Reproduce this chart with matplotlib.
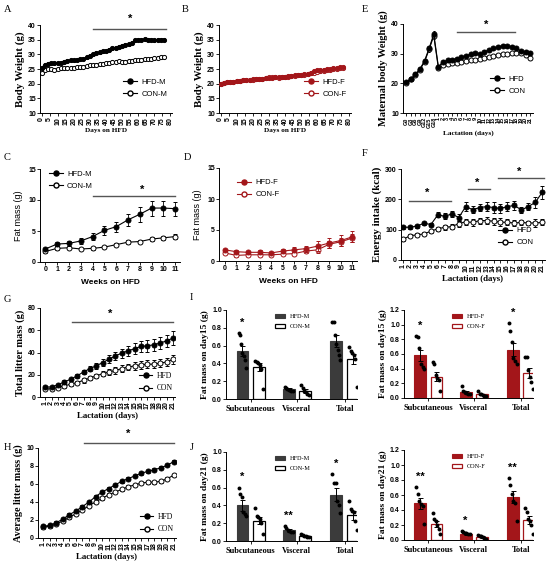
"""Multi-panel figure: body weight, fat mass and litter growth on HFD."""

import matplotlib
matplotlib.use("Agg")
import matplotlib.pyplot as plt
from matplotlib.patches import Patch
from matplotlib.lines import Line2D
import numpy as np

plt.rcParams["font.family"] = "Liberation Sans"
plt.rcParams["font.serif"] = ["Liberation Serif"]

W, H = 546, 565
RED = "#a3161a"
GRAY = "#3b3b3b"
STAR_LINE = "#555555"

# ----------------------------------------------------------------------
# Data
# ----------------------------------------------------------------------
days_hfd = list(range(0, 77, 2))
a_hfd = [25.5, 26.5, 26.8, 27.0, 27.0, 27.0, 27.2, 27.5, 27.8, 28.0, 28.0, 28.2, 28.3,
         28.5, 29.0, 29.5, 30.0, 30.5, 30.7, 31.0, 31.2, 31.5, 32.0, 32.3, 32.6, 33.0,
         33.2, 33.5, 34.0, 34.8, 35.0, 35.0, 35.2, 35.0, 35.0, 34.8, 35.0, 35.0, 35.0]
a_con = [23.5, 24.8, 25.0, 25.0, 24.8, 25.0, 25.2, 25.2, 25.4, 25.5, 25.5, 25.6, 25.6,
         25.8, 26.0, 26.2, 26.3, 26.5, 26.6, 26.8, 27.0, 27.2, 27.4, 27.5, 27.6, 27.5,
         27.4, 27.6, 27.8, 28.0, 28.0, 28.2, 28.3, 28.4, 28.5, 28.6, 28.8, 29.0, 29.0]
a_sem = 0.5
b_hfd = [20.0, 20.3, 20.5, 20.6, 20.7, 20.8, 21.0, 21.2, 21.4, 21.4, 21.5, 21.5, 21.6,
         21.7, 21.8, 22.0, 22.1, 22.2, 22.2, 22.3, 22.4, 22.5, 22.6, 22.8, 22.9, 23.0,
         23.2, 23.4, 23.7, 24.3, 24.5, 24.6, 24.8, 25.0, 25.0, 25.2, 25.4, 25.6, 25.7]
b_con = [20.0, 20.2, 20.4, 20.5, 20.6, 20.8, 21.0, 21.1, 21.3, 21.3, 21.4, 21.5, 21.6,
         21.7, 21.9, 22.3, 22.2, 22.2, 22.1, 22.2, 22.3, 22.4, 22.6, 22.7, 22.8, 22.9,
         23.0, 23.2, 23.5, 23.8, 24.0, 24.2, 24.4, 24.6, 24.8, 25.0, 25.1, 25.3, 25.4]
b_sem = 0.4

e_labels = ["G0", "G3", "G6", "G9", "G12", "G15", "G18"] + [str(d) for d in range(1, 22)]
e_hfd = [20.4, 21.5, 23.0, 24.9, 27.6, 31.9, 36.6,
         25.6, 27.3, 27.7, 28.0, 28.3, 28.8, 29.2, 29.8, 30.1, 29.8, 30.6, 31.2, 31.8,
         32.3, 32.6, 32.5, 32.3, 31.8, 30.8, 30.5, 30.2]
e_con = [20.2, 21.3, 22.8, 24.6, 27.3, 31.5, 36.0,
         25.2, 26.2, 26.6, 26.9, 27.0, 27.2, 27.5, 27.8, 28.0, 28.3, 28.7, 29.0, 29.3,
         29.6, 29.8, 29.9, 30.1, 30.3, 30.1, 29.6, 28.6]
e_sem = [0.4, 0.5, 0.5, 0.6, 0.7, 0.8, 1.0,
         0.5, 0.5, 0.5, 0.5, 0.5, 0.5, 0.5, 0.5, 0.5, 0.5, 0.5, 0.5, 0.5,
         0.5, 0.5, 0.5, 0.5, 0.5, 0.6, 0.6, 0.6]

weeks = list(range(12))
c_hfd = [2.1, 2.9, 3.0, 3.4, 4.1, 5.1, 5.7, 6.8, 7.7, 8.7, 8.7, 8.6]
c_hfd_sem = [0.2, 0.3, 0.4, 0.5, 0.6, 0.7, 0.8, 1.0, 1.2, 1.2, 1.2, 1.1]
c_con = [1.7, 2.2, 2.3, 2.1, 2.2, 2.4, 2.8, 3.2, 3.3, 3.7, 3.9, 4.1]
c_con_sem = [0.2, 0.2, 0.2, 0.2, 0.2, 0.2, 0.2, 0.3, 0.3, 0.3, 0.3, 0.4]

d_hfd = [1.8, 1.5, 1.4, 1.4, 1.3, 1.6, 1.8, 2.0, 2.4, 2.9, 3.3, 3.9]
d_hfd_sem = [0.2, 0.2, 0.2, 0.3, 0.2, 0.3, 0.4, 0.5, 0.8, 0.8, 0.9, 0.9]
d_con = [1.3, 0.9, 1.0, 1.0, 1.0, 1.1, 1.2, 1.6, 1.8, 2.7, 3.1, 3.7]
d_con_sem = [0.2, 0.2, 0.2, 0.2, 0.2, 0.2, 0.2, 0.3, 0.5, 0.6, 0.6, 0.7]

lact_days = list(range(1, 22))
f_hfd = [108, 108, 112, 121, 117, 149, 144, 152, 140, 176, 166, 173, 176, 173, 170,
         176, 180, 165, 176, 190, 223]
f_hfd_sem = [5, 5, 5, 5, 6, 8, 10, 10, 12, 14, 12, 12, 16, 18, 15, 14, 14, 10, 12, 18, 22]
f_con = [68, 80, 83, 86, 95, 103, 108, 110, 120, 126, 124, 130, 130, 128, 125, 124,
         122, 124, 122, 122, 124]
f_con_sem = [5, 5, 5, 5, 5, 6, 8, 8, 10, 10, 12, 10, 12, 12, 12, 10, 10, 8, 8, 12, 10]

g_hfd = [9, 9, 11, 13.5, 16, 19, 22.5, 25.5, 28, 31, 34, 37, 39.5, 41.5, 43.5, 45.5,
         46, 47, 48.5, 50.5, 53]
g_hfd_sem = [1, 1, 1, 1.5, 1.5, 2, 2, 2, 2.5, 3, 3.5, 3.5, 4, 4.5, 5, 5, 5.5, 5.5,
             5.5, 5.5, 6]
g_con = [7, 7.5, 8.5, 10, 11.5, 13, 15, 17, 19, 21, 22.5, 24, 25.5, 27, 28, 29, 29.5,
         29.5, 30.5, 31.5, 34]
g_con_sem = [1, 1, 1, 1.5, 1.5, 1.5, 2, 2, 2, 2.5, 2.5, 3, 3, 3, 3.5, 3.5, 3.5, 3.5,
             3.5, 3.5, 4]

h_hfd = [1.3, 1.4, 1.7, 2.1, 2.6, 3.0, 3.5, 4.0, 4.6, 5.1, 5.5, 5.9, 6.3, 6.6, 6.9,
         7.2, 7.4, 7.6, 7.8, 8.1, 8.5]
h_con = [1.2, 1.3, 1.55, 1.9, 2.3, 2.7, 3.1, 3.6, 4.0, 4.4, 4.8, 5.1, 5.4, 5.7, 5.9,
         6.1, 6.2, 6.2, 6.3, 6.6, 7.0]
h_sem = 0.15

depots = ["Subcutaneous", "Visceral", "Total"]

i_m_hfd = [0.54, 0.11, 0.65]
i_m_hfd_sem = [0.06, 0.01, 0.07]
i_m_con = [0.36, 0.09, 0.45]
i_m_con_sem = [0.04, 0.02, 0.06]
i_m_hfd_pts = [[0.74, 0.72, 0.62, 0.52, 0.48, 0.44, 0.35],
               [0.14, 0.12, 0.11, 0.10, 0.10, 0.09, 0.09],
               [0.87, 0.86, 0.72, 0.62, 0.55, 0.50, 0.44]]
i_m_con_pts = [[0.43, 0.42, 0.41, 0.38, 0.34, 0.11],
               [0.16, 0.12, 0.09, 0.08, 0.06, 0.05],
               [0.58, 0.54, 0.52, 0.50, 0.45, 0.13]]
i_m_stars = ["*", "", ""]

i_f_hfd = [0.58, 0.08, 0.66]
i_f_hfd_sem = [0.07, 0.02, 0.09]
i_f_con = [0.29, 0.05, 0.34]
i_f_con_sem = [0.06, 0.01, 0.07]
i_f_hfd_pts = [[0.85, 0.83, 0.68, 0.47, 0.42, 0.40],
               [0.17, 0.10, 0.08, 0.07, 0.06, 0.06],
               [1.02, 0.92, 0.76, 0.55, 0.50, 0.46]]
i_f_con_pts = [[0.49, 0.46, 0.31, 0.27, 0.25, 0.10],
               [0.09, 0.06, 0.05, 0.04, 0.03, 0.03],
               [0.56, 0.56, 0.38, 0.28, 0.22, 0.12]]
i_f_stars = ["*", "", "*"]

j_m_hfd = [0.40, 0.12, 0.52]
j_m_hfd_sem = [0.06, 0.015, 0.07]
j_m_con = [0.23, 0.06, 0.29]
j_m_con_sem = [0.04, 0.01, 0.05]
j_m_hfd_pts = [[0.60, 0.53, 0.50, 0.33, 0.30, 0.28],
               [0.17, 0.15, 0.12, 0.11, 0.10, 0.10],
               [0.75, 0.65, 0.65, 0.45, 0.40, 0.32]]
j_m_con_pts = [[0.37, 0.28, 0.27, 0.25, 0.20, 0.08],
               [0.08, 0.07, 0.06, 0.06, 0.05, 0.04],
               [0.45, 0.36, 0.34, 0.33, 0.22, 0.12]]
j_m_stars = ["*", "**", "*"]

j_f_hfd = [0.49, 0.08, 0.57]
j_f_hfd_sem = [0.07, 0.01, 0.08]
j_f_con = [0.22, 0.04, 0.27]
j_f_con_sem = [0.04, 0.01, 0.05]
j_f_hfd_pts = [[0.71, 0.62, 0.52, 0.48, 0.46, 0.22],
               [0.12, 0.11, 0.10, 0.09, 0.08, 0.08],
               [0.83, 0.73, 0.62, 0.52, 0.50, 0.26]]
j_f_con_pts = [[0.36, 0.28, 0.25, 0.20, 0.15, 0.08],
               [0.07, 0.06, 0.05, 0.04, 0.03, 0.02],
               [0.43, 0.37, 0.28, 0.25, 0.20, 0.08]]
j_f_stars = ["**", "*", "**"]


# ----------------------------------------------------------------------
# Helpers
# ----------------------------------------------------------------------
def px_axes(fig, left, top, right, bottom):
    return fig.add_axes([left / W, 1 - bottom / H, (right - left) / W, (bottom - top) / H])


def style(ax):
    for s in ("top", "right"):
        ax.spines[s].set_visible(False)
    for s in ("left", "bottom"):
        ax.spines[s].set_linewidth(0.7)
    ax.tick_params(length=2, width=0.6, labelsize=5, pad=1)
    for lab in ax.get_xticklabels() + ax.get_yticklabels():
        lab.set_fontweight("bold")


def serif_label(ax, xlabel=None, ylabel=None, xsize=6, ysize=7.5):
    font = dict(family="Liberation Serif", fontweight="bold")
    if xlabel:
        ax.set_xlabel(xlabel, labelpad=2, fontsize=xsize, **font)
    if ylabel:
        ax.set_ylabel(ylabel, labelpad=2, fontsize=ysize, **font)


def plot_pair(ax, x, hfd, hfd_err, con, con_err, color="black", ms=3.6, cap=1.2):
    ax.errorbar(x, con, yerr=con_err, color=color, lw=0.8, elinewidth=0.6,
                capsize=cap, capthick=0.6, marker="o", ms=ms, mfc="white",
                mec=color, mew=0.7, zorder=2)
    ax.errorbar(x, hfd, yerr=hfd_err, color=color, lw=0.8, elinewidth=0.6,
                capsize=cap, capthick=0.6, marker="o", ms=ms, mfc=color,
                mec=color, mew=0.7, zorder=3)


def pair_legend(ax, labels, color="black", serif=False, **kw):
    handles = [
        Line2D([], [], color=color, lw=0.8, marker="o", ms=3.6, mfc=color, mec=color),
        Line2D([], [], color=color, lw=0.8, marker="o", ms=3.6, mfc="white", mec=color),
    ]
    prop = {"family": "Liberation Serif" if serif else "Liberation Sans", "size": 5.5}
    ax.legend(handles, labels, frameon=False, prop=prop, handlelength=1.8,
              handletextpad=0.6, labelspacing=0.6, borderaxespad=0.2, **kw)


def star_line(ax, x0, x1, y, xs, ys, text="*"):
    ax.plot([x0, x1], [y, y], color=STAR_LINE, lw=1.0, clip_on=False)
    ax.text(xs, ys, text, ha="center", va="center", fontsize=8, fontweight="bold",
            clip_on=False)


def bar_panel(ax, hfd, hfd_sem, con, con_sem, hfd_pts, con_pts, stars, dark,
              edge, ymax, ylabel, labels):
    centers = np.array([0.5, 3.3, 6.2])
    width = 0.72
    xh, xc = centers - 0.5, centers + 0.5
    ax.bar(xh, hfd, width, color=dark, edgecolor=dark, lw=0.8, zorder=1)
    ax.bar(xc, con, width, color="white", edgecolor=edge, lw=0.9, zorder=1)
    ax.errorbar(xh, hfd, yerr=hfd_sem, fmt="none", ecolor="black", elinewidth=0.7,
                capsize=1.8, capthick=0.7, zorder=2)
    ax.errorbar(xc, con, yerr=con_sem, fmt="none", ecolor="black", elinewidth=0.7,
                capsize=1.8, capthick=0.7, zorder=2)
    for k in range(3):
        for pts, x in ((hfd_pts[k], xh[k]), (con_pts[k], xc[k])):
            n = len(pts)
            offs = np.linspace(-0.24, 0.24, n)
            ax.scatter(x + offs, pts, s=8, color="black", zorder=3, lw=0)
        if stars[k]:
            top = max(hfd_pts[k])
            ax.text(xh[k], top + 0.06 * ymax, stars[k], ha="center", va="bottom",
                    fontsize=8, fontweight="bold")
    ax.set_xlim(-1.0, 6.95)
    ax.set_ylim(0, ymax)
    ax.set_xticks(centers)
    ax.set_xticklabels(depots)
    ticks = np.arange(0, ymax + 0.01, 0.2)
    ax.set_yticks(ticks)
    ax.set_yticklabels([f"{t:.1f}" for t in ticks])
    style(ax)
    for lab in ax.get_xticklabels():
        lab.set_family("Liberation Serif")
        lab.set_fontsize(6)
    ax.tick_params(axis="x", pad=2)
    serif_label(ax, ylabel=ylabel, ysize=6.8)
    handles = [Patch(facecolor=dark, edgecolor=dark, lw=0.8),
               Patch(facecolor="white", edgecolor=edge, lw=0.9)]
    ax.legend(handles, labels, frameon=False, loc="upper left",
              bbox_to_anchor=(0.33, 1.02), prop={"family": "Liberation Serif", "size": 4.5},
              handlelength=1.6, handleheight=0.7, labelspacing=0.7)


def letter(fig, x, y, s):
    fig.text(x / W, 1 - y / H, s, family="Liberation Serif", fontsize=7.5,
             ha="left", va="center")


# ----------------------------------------------------------------------
# Figure
# ----------------------------------------------------------------------
fig = plt.figure(figsize=(W / 100, H / 100), dpi=100)

# A
ax = px_axes(fig, 40, 25, 172, 113)
plot_pair(ax, days_hfd, a_hfd, a_sem, a_con, a_sem, ms=3.0, cap=0.8)
ax.set_xlim(-1, 81)
ax.set_ylim(10, 40)
ax.set_xticks(range(0, 81, 5))
ax.set_yticks(range(10, 41, 5))
style(ax)
ax.tick_params(axis="x", rotation=90)
serif_label(ax, "Days on HFD", "Body Weight (g)", xsize=5.2, ysize=7.8)
pair_legend(ax, ["HFD-M", "CON-M"], loc="lower right", bbox_to_anchor=(1.0, 0.12))
star_line(ax, 32, 77, 38.6, 55, 42.0)

# B
ax = px_axes(fig, 219, 25, 351, 113)
plot_pair(ax, days_hfd, b_hfd, b_sem, b_con, b_sem, color=RED, ms=3.0, cap=0.8)
ax.set_xlim(-1, 81)
ax.set_ylim(10, 40)
ax.set_xticks(range(0, 81, 5))
ax.set_yticks(range(10, 41, 5))
style(ax)
ax.tick_params(axis="x", rotation=90)
serif_label(ax, "Days on HFD", "Body Weight (g)", xsize=5.2, ysize=7.8)
pair_legend(ax, ["HFD-F", "CON-F"], color=RED, loc="lower right",
            bbox_to_anchor=(1.0, 0.12))

# E
ax = px_axes(fig, 403, 24, 533, 113)
ex = list(range(len(e_hfd)))
plot_pair(ax, ex, e_hfd, e_sem, e_con, e_sem, ms=3.6, cap=0.8)
ax.set_xlim(-0.7, 27.6)
ax.set_ylim(10, 40)
ax.set_xticks(ex)
ax.set_xticklabels(e_labels)
ax.set_yticks(range(10, 41, 10))
style(ax)
ax.tick_params(axis="x", rotation=90, labelsize=4)
serif_label(ax, "Lactation (days)", "Maternal body Weight (g)", xsize=5.2, ysize=7.6)
pair_legend(ax, ["HFD", "CON"], loc="lower right", bbox_to_anchor=(0.98, 0.15))
star_line(ax, 11, 23.6, 37.2, 17.5, 39.8)

# C
ax = px_axes(fig, 40, 169, 180, 262)
plot_pair(ax, weeks, c_hfd, c_hfd_sem, c_con, c_con_sem)
ax.set_xlim(-0.45, 11.4)
ax.set_ylim(0, 15)
ax.set_xticks(weeks)
ax.set_yticks([0, 5, 10, 15])
style(ax)
ax.set_xlabel("Weeks on HFD", fontsize=6, fontweight="bold", labelpad=4)
ax.set_ylabel("Fat mass (g)", fontsize=6.5, labelpad=4)
pair_legend(ax, ["HFD-M", "CON-M"], loc="upper left", bbox_to_anchor=(0.03, 1.03))
star_line(ax, 4, 11, 10.6, 8.2, 11.6)

# D
ax = px_axes(fig, 219, 168, 357, 261)
plot_pair(ax, weeks, d_hfd, d_hfd_sem, d_con, d_con_sem, color=RED)
ax.set_xlim(-0.5, 11.4)
ax.set_ylim(0, 15)
ax.set_xticks(weeks)
ax.set_yticks([0, 5, 10, 15])
style(ax)
ax.set_xlabel("Weeks on HFD", fontsize=6, fontweight="bold", labelpad=4)
ax.set_ylabel("Fat mass (g)", fontsize=6.5, labelpad=4)
pair_legend(ax, ["HFD-F", "CON-F"], color=RED, loc="upper left",
            bbox_to_anchor=(0.1, 0.93))

# F
ax = px_axes(fig, 401, 169, 545, 260)
plot_pair(ax, lact_days, f_hfd, f_hfd_sem, f_con, f_con_sem)
ax.set_xlim(0.7, 21.4)
ax.set_ylim(0, 300)
ax.set_xticks(lact_days)
ax.set_yticks([0, 100, 200, 300])
style(ax)
ax.tick_params(axis="x", rotation=90)
serif_label(ax, "Lactation (days)", "Energy intake (kcal)", xsize=6.3, ysize=7.8)
pair_legend(ax, ["HFD", "CON"], loc="lower right", bbox_to_anchor=(0.95, 0.1))
star_line(ax, 1.8, 7.9, 196, 4.5, 222)
star_line(ax, 10.3, 13.5, 233, 11.7, 256)
star_line(ax, 14.6, 21.2, 269, 17.7, 290)

# G
ax = px_axes(fig, 40, 308, 175, 397)
plot_pair(ax, lact_days, g_hfd, g_hfd_sem, g_con, g_con_sem)
ax.set_xlim(0.2, 21.3)
ax.set_ylim(0, 80)
ax.set_xticks(lact_days)
ax.set_yticks([0, 20, 40, 60, 80])
style(ax)
ax.tick_params(axis="x", rotation=90)
serif_label(ax, "Lactation (days)", "Total litter mass (g)", xsize=6.3, ysize=7.5)
pair_legend(ax, ["HFD", "CON"], serif=True, loc="lower right",
            bbox_to_anchor=(1.02, 0.0))
star_line(ax, 5.2, 21, 67.4, 11.2, 75)

# H
ax = px_axes(fig, 38, 448, 176, 538)
plot_pair(ax, lact_days, h_hfd, h_sem, h_con, h_sem)
ax.set_xlim(0.2, 21.3)
ax.set_ylim(0, 10)
ax.set_xticks(lact_days)
ax.set_yticks([0, 2, 4, 6, 8, 10])
style(ax)
ax.tick_params(axis="x", rotation=90)
serif_label(ax, "Lactation (days)", "Average litter mass (g)", xsize=6.3, ysize=7.3)
pair_legend(ax, ["HFD", "CON"], serif=True, loc="lower right",
            bbox_to_anchor=(1.02, 0.0))
star_line(ax, 7.3, 21, 10.56, 14, 11.6)

# I
ax = px_axes(fig, 226, 310, 357, 399)
bar_panel(ax, i_m_hfd, i_m_hfd_sem, i_m_con, i_m_con_sem, i_m_hfd_pts, i_m_con_pts,
          i_m_stars, GRAY, "black", 1.0, "Fat mass on day15 (g)", ["HFD-M", "CON-M"])
ax = px_axes(fig, 404, 310, 533, 398)
bar_panel(ax, i_f_hfd, i_f_hfd_sem, i_f_con, i_f_con_sem, i_f_hfd_pts, i_f_con_pts,
          i_f_stars, RED, RED, 1.2, "Fat mass on day15 (g)", ["HFD-F", "CON-F"])

# J
ax = px_axes(fig, 226, 452, 357, 541)
bar_panel(ax, j_m_hfd, j_m_hfd_sem, j_m_con, j_m_con_sem, j_m_hfd_pts, j_m_con_pts,
          j_m_stars, GRAY, "black", 1.0, "Fat mass on day21 (g)", ["HFD-M", "CON-M"])
ax = px_axes(fig, 404, 450, 533, 540)
bar_panel(ax, j_f_hfd, j_f_hfd_sem, j_f_con, j_f_con_sem, j_f_hfd_pts, j_f_con_pts,
          j_f_stars, RED, RED, 1.2, "Fat mass on day21 (g)", ["HFD-F", "CON-F"])

for x, y, s in [(4, 9, "A"), (182, 9, "B"), (362, 9, "E"), (4, 157, "C"),
                (184, 157, "D"), (362, 153, "F"), (4, 300, "G"), (4, 448, "H"),
                (190, 298, "I"), (190, 448, "J")]:
    letter(fig, x, y, s)

fig.savefig("out.png", dpi=100)
plt.close(fig)
